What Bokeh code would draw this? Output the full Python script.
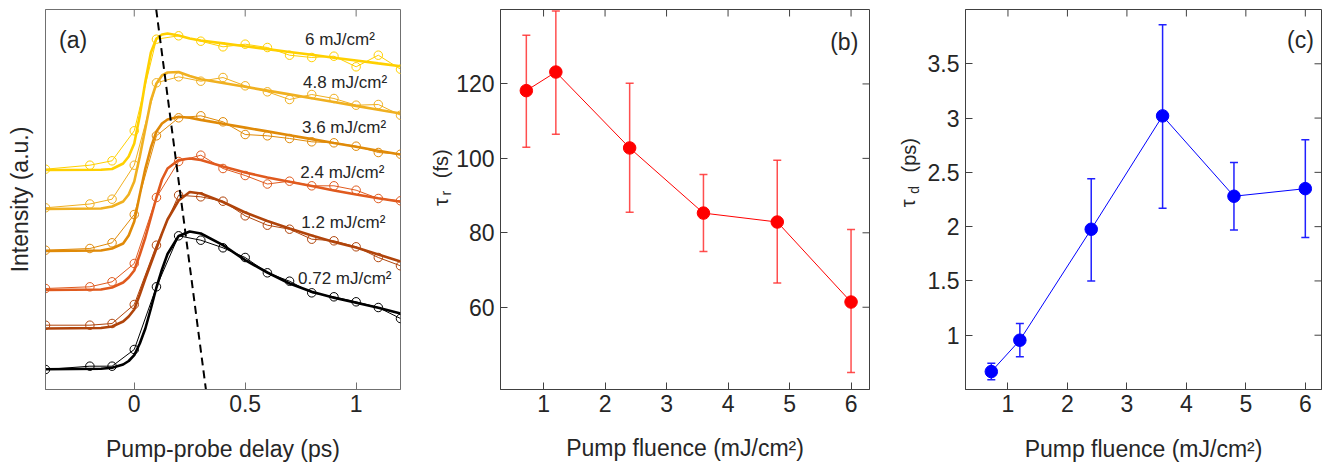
import math
from bokeh.plotting import figure
from bokeh.layouts import row
from bokeh.models import (Range1d, FixedTicker, Label, Whisker, TeeHead, ColumnDataSource)
from bokeh.embed import file_html
from bokeh.resources import INLINE

# ---------------- data ----------------
delay = [-0.4, -0.2, -0.1, 0.0, 0.1, 0.2, 0.3, 0.4, 0.5, 0.6, 0.7, 0.8, 0.9, 1.0, 1.1, 1.2]
int_6 = [220.3, 224.3, 228.7, 258.7, 350.3, 353.7, 348.3, 342.7, 345.3, 342.0, 334.3, 332.0, 333.3, 322.7, 334.3, 320.3]
int_48 = [181.7, 185.5, 190.3, 224.3, 306.7, 312.7, 308.3, 312.0, 303.7, 297.7, 290.0, 295.0, 291.0, 284.3, 285.0, 274.3]
int_36 = [139.3, 141.0, 146.7, 175.0, 253.7, 271.7, 273.7, 267.7, 255.0, 253.7, 251.0, 247.7, 246.7, 243.3, 237.0, 235.3]
int_24 = [101.0, 102.7, 107.7, 126.0, 192.0, 228.0, 234.3, 221.0, 214.0, 205.5, 208.3, 203.7, 203.7, 199.3, 191.0, 188.7]
int_12 = [64.3, 64.3, 66.0, 85.0, 144.3, 194.3, 192.7, 188.3, 173.7, 164.3, 160.3, 150.3, 148.7, 142.7, 132.0, 123.7]
int_072 = [20.0, 23.3, 23.3, 40.0, 102.7, 153.7, 149.3, 141.7, 132.0, 116.7, 108.3, 96.7, 92.7, 87.7, 82.0, 71.0]

fit_delay = [-0.4, -0.15, -0.1, -0.05, -0.025, 0.0, 0.025, 0.05, 0.075, 0.1, 0.125, 0.15,
             0.2, 0.25, 0.3, 0.4, 0.5, 0.6, 0.7, 0.8, 0.9, 1.0, 1.1, 1.2]
fit_6 = [219.5, 219.8, 220.5, 226.0, 233.0, 246.0, 274.0, 308.0, 337.0, 351.0, 355.0, 356.0,
         354.0, 351.0, 349.0, 346.1, 343.2, 340.4, 337.5, 334.7, 331.8, 329.0, 326.1, 323.3]
fit_48 = [180.5, 181.0, 183.0, 188.0, 195.0, 208.0, 233.0, 261.0, 289.0, 306.0, 314.0, 317.0,
          317.5, 313.5, 310.3, 306.5, 302.7, 298.9, 295.1, 291.3, 287.5, 283.6, 279.8, 276.0]
fit_36 = [138.5, 139.0, 141.0, 146.0, 154.0, 168.0, 195.0, 221.0, 242.0, 258.0, 266.0, 270.0,
          272.7, 271.8, 269.6, 265.7, 261.9, 258.1, 254.2, 250.4, 246.5, 242.7, 238.8, 235.0]
fit_24 = [99.5, 100.0, 102.0, 107.0, 112.0, 119.0, 135.0, 152.0, 172.0, 192.0, 210.0, 221.0,
          229.5, 231.0, 229.5, 223.0, 217.0, 212.0, 207.7, 203.5, 199.0, 195.0, 191.3, 187.7]
fit_12 = [61.0, 61.5, 63.0, 68.0, 73.0, 80.0, 95.0, 111.0, 126.0, 141.0, 156.0, 170.0,
          189.0, 197.5, 196.0, 187.5, 177.0, 168.5, 161.0, 154.0, 147.5, 142.0, 135.0, 128.0]
fit_072 = [20.3, 20.8, 21.7, 25.0, 28.5, 34.3, 46.0, 61.0, 81.0, 102.0, 120.0, 135.5,
           153.5, 158.0, 156.0, 144.3, 129.3, 117.0, 106.0, 97.7, 91.7, 86.7, 81.7, 76.0]

curve_labels = ["6 mJ/cm²", "4.8 mJ/cm²", "3.6 mJ/cm²", "2.4 mJ/cm²", "1.2 mJ/cm²", "0.72 mJ/cm²"]

peak_delay = [0.099, 0.323]
peak_level = [380.0, 0.0]

fluence = [0.72, 1.2, 2.4, 3.6, 4.8, 6.0]
tau_r = [118.2, 123.2, 102.8, 85.3, 82.9, 61.4]
tau_r_hi = [133.1, 139.6, 120.2, 95.7, 99.5, 80.9]
tau_r_lo = [103.0, 106.5, 85.5, 75.0, 66.5, 42.5]
tau_d = [0.665, 0.954, 1.976, 3.02, 2.28, 2.35]
tau_d_hi = [0.741, 1.109, 2.44, 3.86, 2.59, 2.80]
tau_d_lo = [0.589, 0.802, 1.50, 2.17, 1.97, 1.90]

xticks_a = [0, 0.5, 1]
xticks_bc = [1, 2, 3, 4, 5, 6]
yticks_b = [60, 80, 100, 120]
yticks_c = [1, 1.5, 2, 2.5, 3, 3.5]

# ---------------- styling ----------------
FONT = "Liberation Sans"
TXT = "#262626"
AX_A = "#707070"
AX_BC = "#404040"
colors = ["#FFD000", "#F0B020", "#E08A08", "#E05A1E", "#B0440B", "#000000"]
H = 464
TICK = 7
OX, OY = 3, 2   # observed picture offset of the layout's top-left corner


def base_fig(width, xr, yr, left, right, top, bottom):
    p = figure(width=width, height=H, x_range=Range1d(*xr), y_range=Range1d(*yr),
               output_backend="svg", toolbar_location=None,
               min_border_left=left, min_border_right=right,
               min_border_top=top, min_border_bottom=bottom)
    p.grid.visible = False
    p.background_fill_color = "white"
    p.border_fill_color = "white"
    return p


def strip(width):
    s = figure(width=width, height=H, x_range=Range1d(0, width), y_range=Range1d(0, H),
               output_backend="svg", toolbar_location=None,
               x_axis_location=None, y_axis_location=None, min_border=0)
    s.grid.visible = False
    s.outline_line_color = None
    s.background_fill_color = "white"
    s.border_fill_color = "white"
    return s


def setup_axis(ax, ticks, color, standoff=5, overrides=None, tick_in=TICK):
    ax.ticker = FixedTicker(ticks=ticks)
    ax.major_tick_in = tick_in
    ax.major_tick_out = 0
    ax.minor_tick_line_color = None
    ax.axis_line_color = color
    ax.major_tick_line_color = color
    ax.major_label_text_font = FONT
    ax.major_label_text_font_size = "23px"
    ax.major_label_text_color = TXT
    ax.major_label_standoff = standoff
    ax.axis_label_text_font = FONT
    ax.axis_label_text_font_style = "normal"
    ax.axis_label_text_color = TXT
    ax.axis_label_text_font_size = "23px"
    if overrides:
        ax.major_label_overrides = overrides


def mirror_ticks(p, xticks, ytop, color, yticks=None, xright=None):
    p.ray(x=xticks, y=[ytop] * len(xticks), length=TICK, length_units="screen",
          angle=-math.pi / 2, line_color=color, line_width=1)
    if yticks is not None:
        p.ray(x=[xright] * len(yticks), y=yticks, length=TICK, length_units="screen",
              angle=math.pi, line_color=color, line_width=1)


def add_text(p, x, y, text, size, align="left", baseline="middle", angle=0.0):
    p.add_layout(Label(x=x, y=y, text=text, text_font=FONT, text_font_size=size,
                       text_align=align, text_baseline=baseline, angle=angle,
                       text_color=TXT))


W_A, W_S1, W_B, W_S2, W_C = 414, 39, 427, 44, 399

# ---------------- panel (a) ----------------
pa = base_fig(W_A, (-0.4, 1.2), (0, 380), 45, 14, 9, 75)
pa.outline_line_color = AX_A
setup_axis(pa.xaxis[0], xticks_a, AX_A, standoff=5, overrides={0: "0", 0.5: "0.5", 1: "1"})
pa.xaxis[0].axis_label = "Pump-probe delay (ps)"
pa.xaxis[0].axis_label_standoff = 21
setup_axis(pa.yaxis[0], [], AX_A, standoff=0, tick_in=0)
pa.yaxis[0].axis_label = "Intensity (a.u.)"
pa.yaxis[0].axis_label_standoff = 13
mirror_ticks(pa, xticks_a, 380, AX_A)

series = [int_6, int_48, int_36, int_24, int_12, int_072]
fits = [fit_6, fit_48, fit_36, fit_24, fit_12, fit_072]
for vals, col in zip(series, colors):
    pa.line(delay, vals, line_color=col, line_width=1)
    pa.scatter(delay, vals, marker="circle", size=8.5, line_color=col,
               fill_color=None, line_width=1)
for vals, col in zip(fits, colors):
    pa.line(fit_delay, vals, line_color=col, line_width=2.6)
pa.line(peak_delay, peak_level, line_color="black", line_width=2, line_dash="8 5")


def ax_(px):
    return -0.4 + (px - 48) * 1.6 / 355


def ay_(py):
    return 391 - py


label_pos = [(307.5, 40.5), (305.5, 83.5), (304.5, 129), (302.8, 173.5), (303.8, 223.5), (300.5, 280)]
for txt, (px, py) in zip(curve_labels, label_pos):
    add_text(pa, ax_(px), ay_(py), txt, "17px")
add_text(pa, ax_(61.5), ay_(41), "(a)", "23px")


def sy(py):
    return H + OY - py


# ---------------- strip with tau_r label ----------------
s1 = strip(W_S1)
S1_LEFT = OX + W_A


def s1x(px):
    return px - S1_LEFT


add_text(s1, s1x(443.5), sy(242), "τ", "20px", baseline="alphabetic", angle=math.pi / 2)
add_text(s1, s1x(448.5), sy(229), "r", "14px", baseline="alphabetic", angle=math.pi / 2)
add_text(s1, s1x(443.5), sy(208), "(fs)", "20px", baseline="alphabetic", angle=math.pi / 2)

# ---------------- panel (b) ----------------
pb = base_fig(W_B, (0.3, 6.3), (37.9, 140.0), 45, 11, 5, 75)
pb.outline_line_color = AX_BC
setup_axis(pb.xaxis[0], xticks_bc, AX_BC, standoff=5)
pb.xaxis[0].axis_label = "Pump fluence (mJ/cm²)"
pb.xaxis[0].axis_label_standoff = 20
setup_axis(pb.yaxis[0], yticks_b, AX_BC, standoff=6)
mirror_ticks(pb, xticks_bc, 140.0, AX_BC, yticks_b, 6.3)

src_b = ColumnDataSource(dict(x=fluence, y=tau_r, hi=tau_r_hi, lo=tau_r_lo))
pb.add_layout(Whisker(source=src_b, base="x", upper="hi", lower="lo", dimension="height",
                      line_color="#ff3030", line_width=1.5, line_alpha=0.85,
                      upper_head=TeeHead(size=8, line_color="#ff3030", line_width=1.5, line_alpha=0.85),
                      lower_head=TeeHead(size=8, line_color="#ff3030", line_width=1.5, line_alpha=0.85)))
pb.line("x", "y", source=src_b, line_color="red", line_width=1)
pb.scatter("x", "y", source=src_b, marker="circle", size=12.5, fill_color="red", line_color="red")


def bx(px):
    return 0.3 + (px - 501) * 6.0 / 371


def by(py):
    return 37.9 + (391 - py) * 102.1 / 384


add_text(pb, bx(832.5), by(39.5), "(b)", "23px")

# ---------------- strip with tau_d label ----------------
s2 = strip(W_S2)
S2_LEFT = OX + W_A + W_S1 + W_B


def s2x(px):
    return px - S2_LEFT


add_text(s2, s2x(910.5), sy(243.5), "τ", "20px", baseline="alphabetic", angle=math.pi / 2)
add_text(s2, s2x(916), sy(227), "d", "14px", baseline="alphabetic", angle=math.pi / 2)
add_text(s2, s2x(911.5), sy(201), "(ps)", "20px", baseline="alphabetic", angle=math.pi / 2)

# ---------------- panel (c) ----------------
pc = base_fig(W_C, (0.286, 6.272), (0.5, 4.0), 40, 2, 7, 74)
pc.outline_line_color = AX_BC
setup_axis(pc.xaxis[0], xticks_bc, AX_BC, standoff=5)
pc.xaxis[0].axis_label = "Pump fluence (mJ/cm²)"
pc.xaxis[0].axis_label_standoff = 21
setup_axis(pc.yaxis[0], yticks_c, AX_BC, standoff=6,
           overrides={1: "1", 1.5: "1.5", 2: "2", 2.5: "2.5", 3: "3", 3.5: "3.5"})
mirror_ticks(pc, xticks_bc, 4.0, AX_BC, yticks_c, 6.272)

src_c = ColumnDataSource(dict(x=fluence, y=tau_d, hi=tau_d_hi, lo=tau_d_lo))
pc.add_layout(Whisker(source=src_c, base="x", upper="hi", lower="lo", dimension="height",
                      line_color="#2020ff", line_width=1.5,
                      upper_head=TeeHead(size=8, line_color="#2020ff", line_width=1.5),
                      lower_head=TeeHead(size=8, line_color="#2020ff", line_width=1.5)))
pc.line("x", "y", source=src_c, line_color="blue", line_width=1)
pc.scatter("x", "y", source=src_c, marker="circle", size=12.5, fill_color="blue", line_color="blue")


def cx(px):
    return 0.286 + (px - 969) * 5.986 / 357


def cy(py):
    return 0.5 + (392 - py) * 3.5 / 383


add_text(pc, cx(1291.5), cy(39.5), "(c)", "23px")

layout = row(pa, s1, pb, s2, pc)
open("out.html", "w").write(file_html(layout, INLINE))
